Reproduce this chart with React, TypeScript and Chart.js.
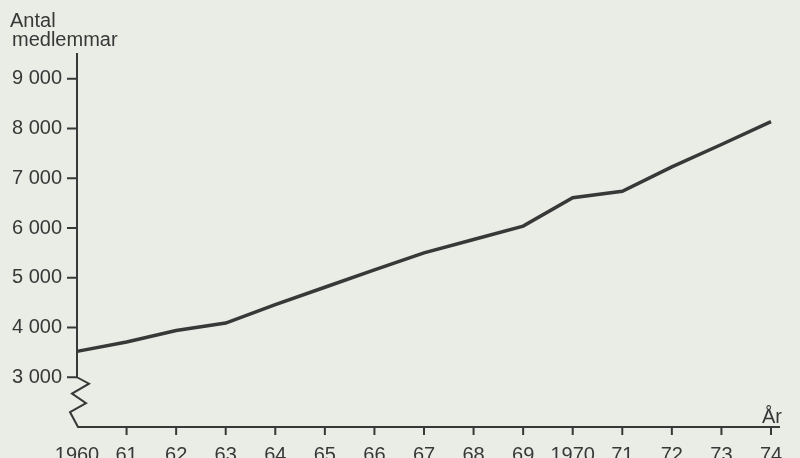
import React, { useEffect, useRef } from "react";
import { Chart, registerables } from "chart.js";

Chart.register(...registerables);

const years = [1960, 1961, 1962, 1963, 1964, 1965, 1966, 1967, 1968, 1969, 1970, 1971, 1972, 1973, 1974];
const members = [3520, 3710, 3940, 4090, 4460, 4810, 5160, 5500, 5770, 6040, 6610, 6740, 7230, 7680, 8140];
const yTicks = [3000, 4000, 5000, 6000, 7000, 8000, 9000];
const yTitle = ["Antal", "medlemmar"];
const xTitle = "År";

const INK = "#383838";
const BG = "#eaece6";
const FONT = "Liberation Sans";

const axesPlugin = {
  id: "customAxes",
  beforeDraw(chart: any) {
    const { ctx, width, height } = chart;
    ctx.save();
    ctx.fillStyle = BG;
    ctx.fillRect(0, 0, width, height);
    ctx.restore();
  },
  beforeDatasetsDraw(chart: any) {
    const { ctx, chartArea, scales } = chart;
    const xs = scales.x;
    const ys = scales.y;
    const left = chartArea.left;
    const bottom = chartArea.bottom;
    const top = chartArea.top;
    const y3000 = ys.getPixelForValue(yTicks[0]);
    ctx.save();
    ctx.strokeStyle = INK;
    ctx.lineWidth = 2;
    ctx.lineJoin = "miter";
    // vertical axis
    ctx.beginPath();
    ctx.moveTo(left, top);
    ctx.lineTo(left, y3000);
    // zigzag break
    const gap = bottom - y3000;
    ctx.lineTo(left + 12, y3000 + gap * 0.13);
    ctx.lineTo(left - 5, y3000 + gap * 0.33);
    ctx.lineTo(left + 9, y3000 + gap * 0.52);
    ctx.lineTo(left - 7, y3000 + gap * 0.7);
    ctx.lineTo(left + 1, bottom);
    // horizontal axis
    ctx.lineTo(chartArea.right + 9, bottom);
    ctx.stroke();
    // y ticks
    ctx.beginPath();
    for (const v of yTicks) {
      const py = ys.getPixelForValue(v);
      ctx.moveTo(left - 10, py);
      ctx.lineTo(left, py);
    }
    // x ticks
    for (const yr of years) {
      if (yr === years[0]) continue;
      const px = xs.getPixelForValue(yr);
      ctx.moveTo(px, bottom);
      ctx.lineTo(px, bottom + 8);
    }
    ctx.stroke();
    // titles
    ctx.fillStyle = INK;
    ctx.font = `20px "${FONT}"`;
    ctx.textAlign = "left";
    ctx.textBaseline = "alphabetic";
    ctx.fillText(yTitle[0], 10, 27);
    ctx.fillText(yTitle[1], 12, 46);
    ctx.textAlign = "center";
    ctx.fillText(xTitle, xs.getPixelForValue(years[years.length - 1]) + 1, 423);
    ctx.restore();
  },
};

export default function App() {
  const ref = useRef<HTMLCanvasElement | null>(null);
  useEffect(() => {
    if (!ref.current) return;
    const chart = new Chart(ref.current, {
      type: "line",
      data: {
        datasets: [
          {
            data: years.map((y, i) => ({ x: y, y: members[i] })),
            borderColor: INK,
            borderWidth: 3.5,
            pointRadius: 0,
            tension: 0,
            fill: false,
            clip: false as any,
          },
        ],
      },
      options: {
        animation: false,
        responsive: true,
        maintainAspectRatio: false,
        layout: { padding: { top: 53, right: 29, bottom: 0, left: 0 } },
        plugins: { legend: { display: false }, tooltip: { enabled: false }, title: { display: false } },
        scales: {
          x: {
            type: "linear",
            min: years[0],
            max: years[years.length - 1],
            grid: { display: false, drawTicks: false },
            border: { display: false },
            afterBuildTicks: (s: any) => {
              s.ticks = years.map((v) => ({ value: v }));
            },
            afterFit: (s: any) => {
              s.height = 31;
            },
            ticks: {
              autoSkip: false,
              maxRotation: 0,
              padding: 16,
              color: INK,
              font: { family: FONT, size: 20 },
              callback: (v: any) => {
                const n = Number(v);
                return n % 10 === 0 ? String(n) : String(n).slice(2);
              },
            },
          },
          y: {
            type: "linear",
            min: 2000,
            max: 9520,
            grid: { display: false, drawTicks: false },
            border: { display: false },
            afterBuildTicks: (s: any) => {
              s.ticks = yTicks.map((v) => ({ value: v }));
            },
            afterFit: (s: any) => {
              s.width = 77;
            },
            ticks: {
              padding: 15,
              color: INK,
              font: { family: FONT, size: 20 },
              callback: (v: any) => {
                const n = Number(v);
                return `${Math.floor(n / 1000)} ${String(n % 1000).padStart(3, "0")}`;
              },
            },
          },
        },
      },
      plugins: [axesPlugin],
    });
    return () => chart.destroy();
  }, []);
  return (
    <div style={{ position: "absolute", left: 0, top: 0, width: 800, height: 458, background: BG }}>
      <canvas ref={ref} width={800} height={458} />
    </div>
  );
}
